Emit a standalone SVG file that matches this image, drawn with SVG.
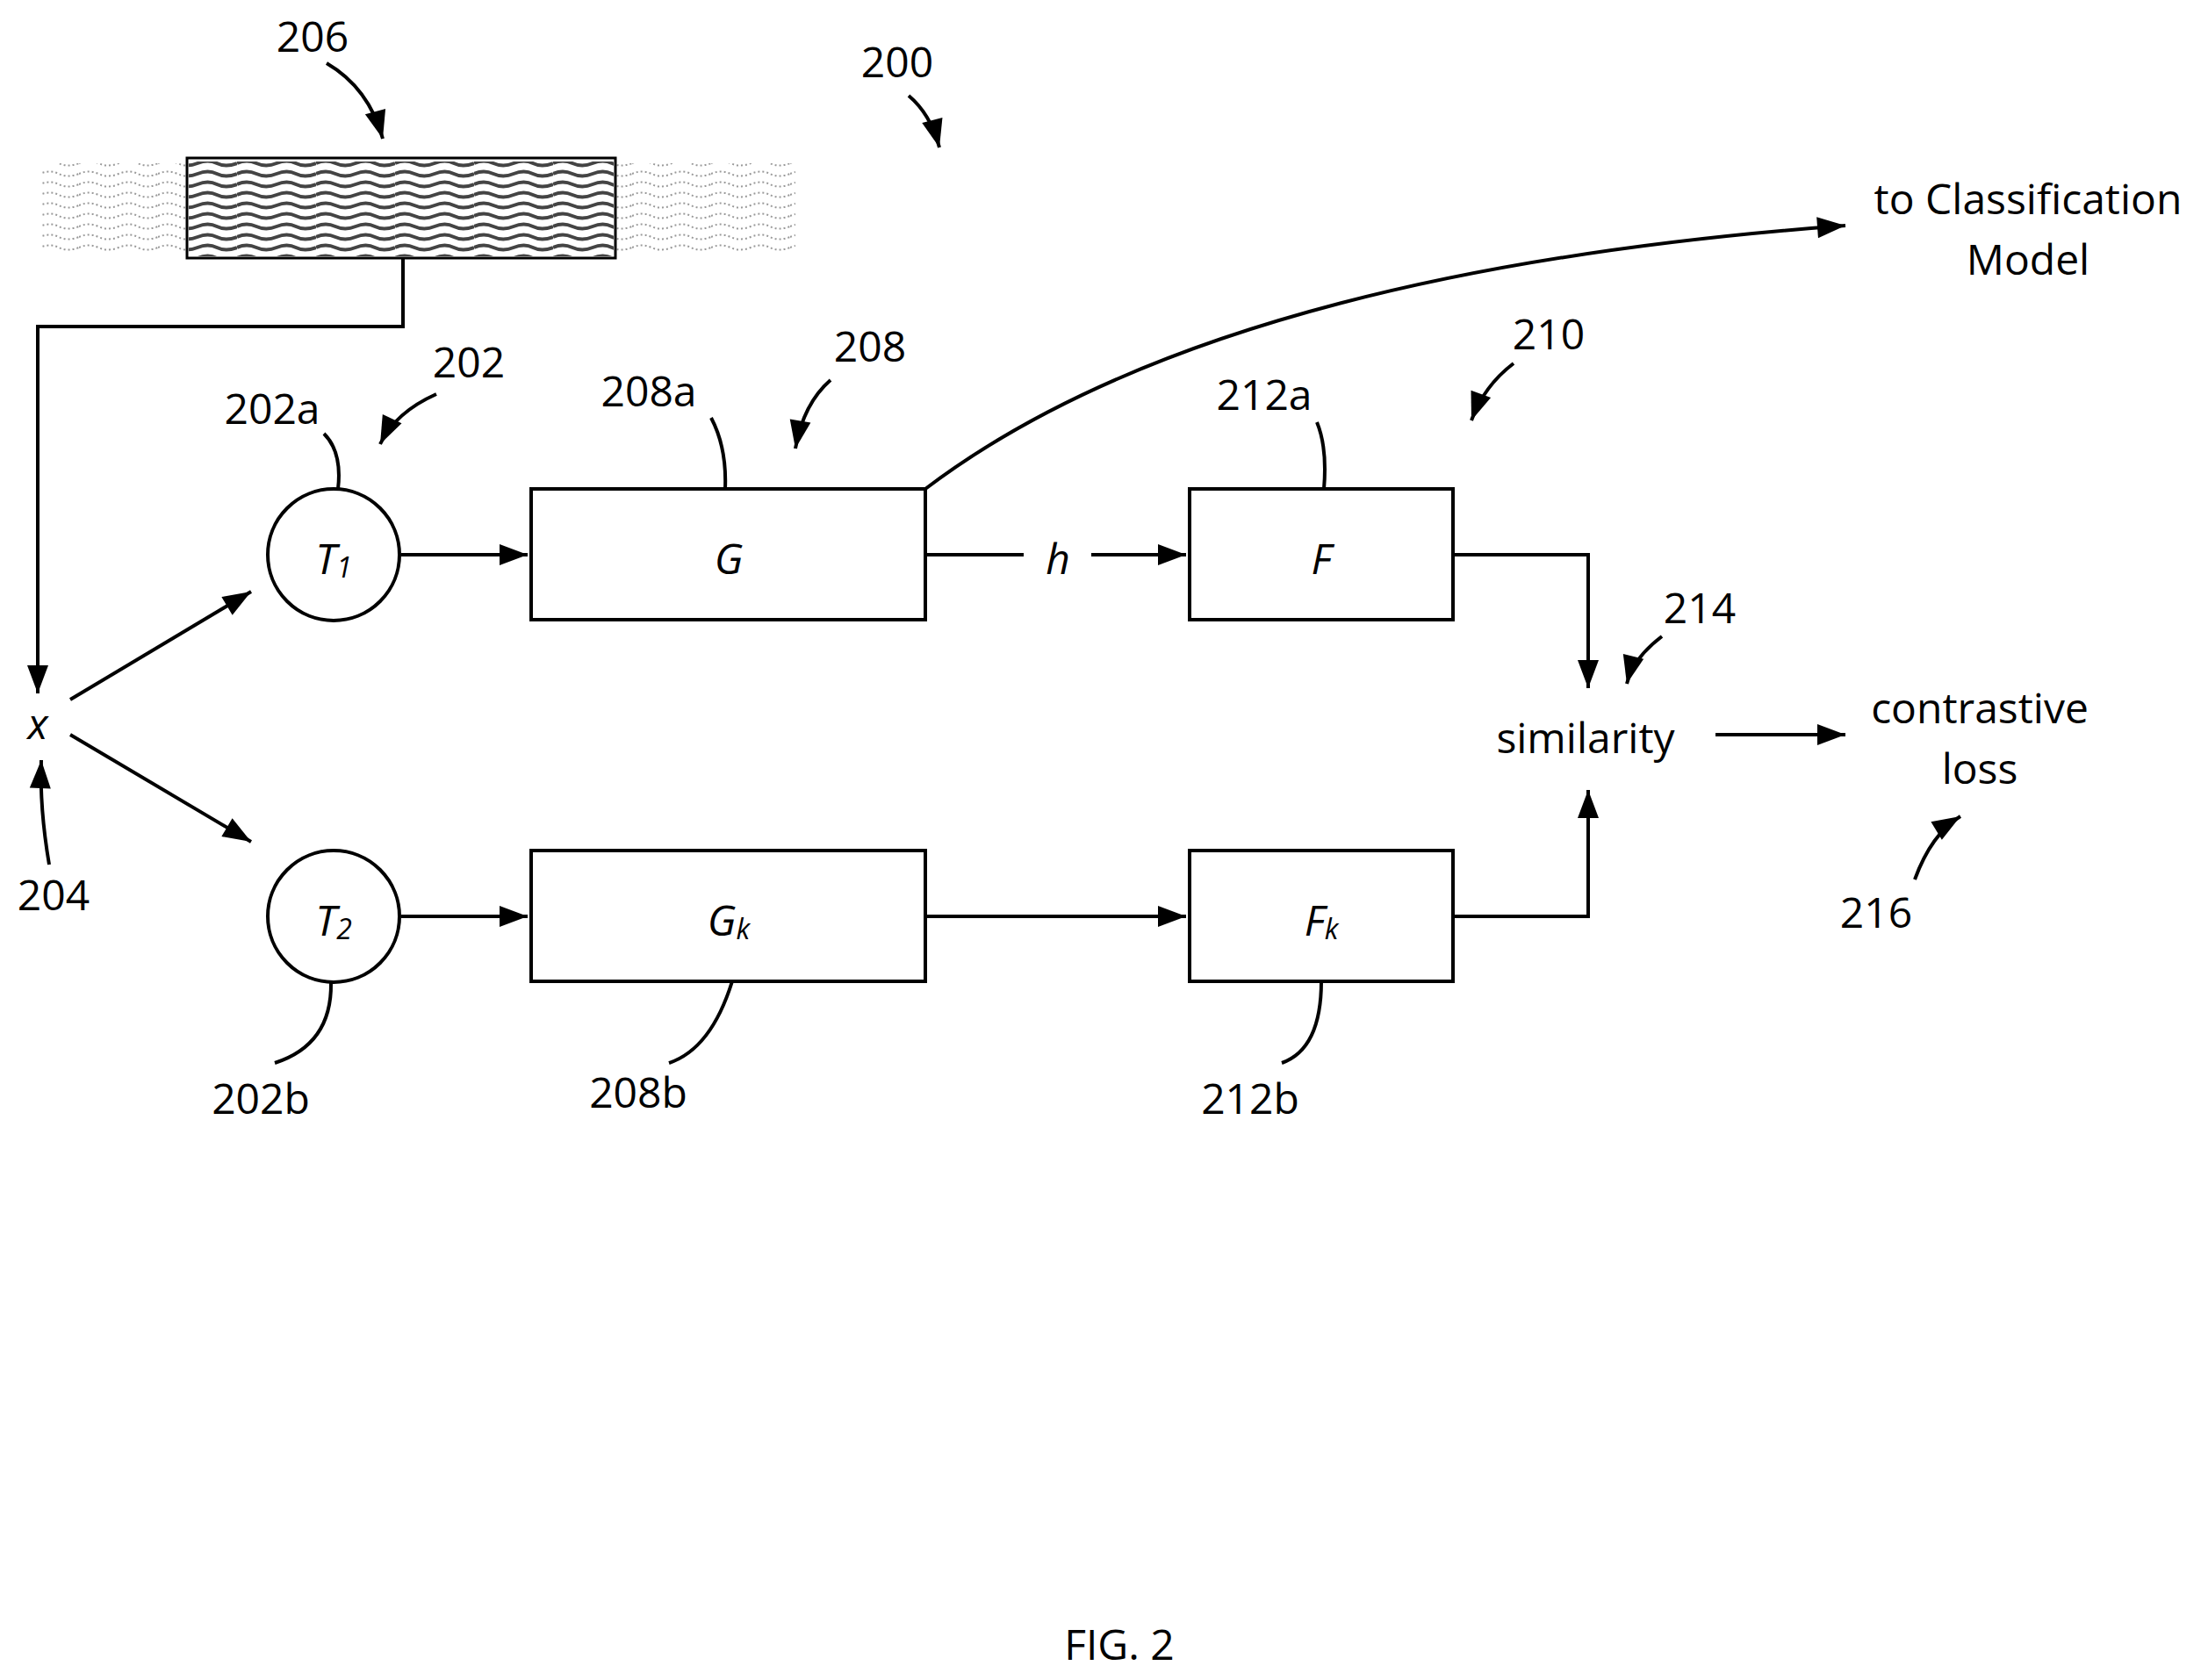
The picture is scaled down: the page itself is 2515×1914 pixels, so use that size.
<svg xmlns="http://www.w3.org/2000/svg" width="2515" height="1914" viewBox="0 0 2515 1914">
<style>
.t{font-family:"Open Sans","Liberation Sans",sans-serif;font-size:48px;fill:#000;text-anchor:middle;dominant-baseline:central}
.i{font-style:italic}
.l{fill:none;stroke:#000;stroke-width:4}
.b{fill:#fff;stroke:#000;stroke-width:4}
</style>
<defs>
<marker id="m" viewBox="-36 -15 40 30" refX="0" refY="0" markerWidth="40" markerHeight="30" markerUnits="userSpaceOnUse" orient="auto">
<path d="M-32,-12L0,0L-32,12z" fill="#000"/>
</marker>
<pattern id="w" width="90" height="12" patternUnits="userSpaceOnUse">
<path d="M0,6 Q11,1 22,6 T45,6 T67,6 T90,6" fill="none" stroke="#444" stroke-width="4"/>
</pattern>
<pattern id="wl" width="90" height="12" patternUnits="userSpaceOnUse">
<path d="M0,6 Q11,1 22,6 T45,6 T67,6 T90,6" fill="none" stroke="#999" stroke-width="2" stroke-dasharray="2 3"/>
</pattern>
</defs>
<g id="signal-206">
<rect x="48" y="186" width="858" height="104" fill="url(#wl)"/>
<rect x="213" y="180" width="488" height="114" fill="#fff" stroke="#000" stroke-width="3"/>
<rect x="215" y="184" width="484" height="108" fill="url(#w)"/>
</g>
<g id="connectors">
<path class="l" d="M459,294V372H43V790" marker-end="url(#m)"/>
<path class="l" d="M80,797L286,674" marker-end="url(#m)"/>
<path class="l" d="M80,837L286,959" marker-end="url(#m)"/>
<path class="l" d="M457,632H601" marker-end="url(#m)"/>
<path class="l" d="M457,1044H601" marker-end="url(#m)"/>
<path class="l" d="M1054,632H1166"/>
<path class="l" d="M1243,632H1351" marker-end="url(#m)"/>
<path class="l" d="M1054,1044H1351" marker-end="url(#m)"/>
<path class="l" d="M1655,632H1809V784" marker-end="url(#m)"/>
<path class="l" d="M1655,1044H1809V900" marker-end="url(#m)"/>
<path class="l" d="M1954,837H2102" marker-end="url(#m)"/>
<path class="l" d="M1054,557Q1380,310 2102,257" marker-end="url(#m)"/>
<path class="l" d="M1035,109Q1060,130 1070,168" marker-end="url(#m)"/>
<path class="l" d="M372,72Q420,100 436,158" marker-end="url(#m)"/>
<path class="l" d="M497,449Q450,470 433,506" marker-end="url(#m)"/>
<path class="l" d="M946,433Q915,460 906,511" marker-end="url(#m)"/>
<path class="l" d="M1724,414Q1690,440 1676,479" marker-end="url(#m)"/>
<path class="l" d="M1893,725Q1860,750 1853,779" marker-end="url(#m)"/>
<path class="l" d="M56,985Q45,920 47,866" marker-end="url(#m)"/>
<path class="l" d="M2181,1002Q2200,950 2233,930" marker-end="url(#m)"/>
<path class="l" d="M369,494Q390,515 385,557"/>
<path class="l" d="M810,476Q828,510 826,557"/>
<path class="l" d="M1500,481Q1512,510 1508,557"/>
<path class="l" d="M377,1120Q378,1190 313,1211"/>
<path class="l" d="M834,1118Q810,1195 762,1211"/>
<path class="l" d="M1505,1118Q1505,1195 1460,1211"/>
</g>
<g id="T1"><circle class="b" cx="380" cy="632" r="75"/><text class="t i" x="380" y="635">T<tspan font-size="32" dy="10">1</tspan></text></g>
<g id="T2"><circle class="b" cx="380" cy="1044" r="75"/><text class="t i" x="380" y="1047">T<tspan font-size="32" dy="10">2</tspan></text></g>
<g id="G"><rect class="b" x="605" y="557" width="449" height="149"/><text class="t i" x="830" y="635">G</text></g>
<g id="Gk"><rect class="b" x="605" y="969" width="449" height="149"/><text class="t i" x="830" y="1047">G<tspan font-size="32" dy="10">k</tspan></text></g>
<g id="F"><rect class="b" x="1355" y="557" width="300" height="149"/><text class="t i" x="1505" y="635">F</text></g>
<g id="Fk"><rect class="b" x="1355" y="969" width="300" height="149"/><text class="t i" x="1505" y="1047">F<tspan font-size="32" dy="10">k</tspan></text></g>
<g id="labels">
<text class="t i" x="43" y="823">x</text>
<text class="t i" x="1205" y="635">h</text>
<text class="t" x="1806" y="839">similarity</text>
<text class="t" x="2255" y="805">contrastive</text>
<text class="t" x="2255" y="874">loss</text>
<text class="t" x="2310" y="225">to Classification</text>
<text class="t" x="2310" y="294">Model</text>
<text class="t" x="61" y="1018">204</text>
<text class="t" x="2137" y="1038">216</text>
<text class="t" x="1022" y="69">200</text>
<text class="t" x="356" y="40">206</text>
<text class="t" x="534" y="411">202</text>
<text class="t" x="310" y="464">202a</text>
<text class="t" x="991" y="393">208</text>
<text class="t" x="739" y="444">208a</text>
<text class="t" x="1764" y="379">210</text>
<text class="t" x="1440" y="448">212a</text>
<text class="t" x="1936" y="691">214</text>
<text class="t" x="297" y="1250">202b</text>
<text class="t" x="727" y="1243">208b</text>
<text class="t" x="1424" y="1250">212b</text>
<text class="t" x="1275" y="1872" font-size="58">FIG. 2</text>
</g>
</svg>
